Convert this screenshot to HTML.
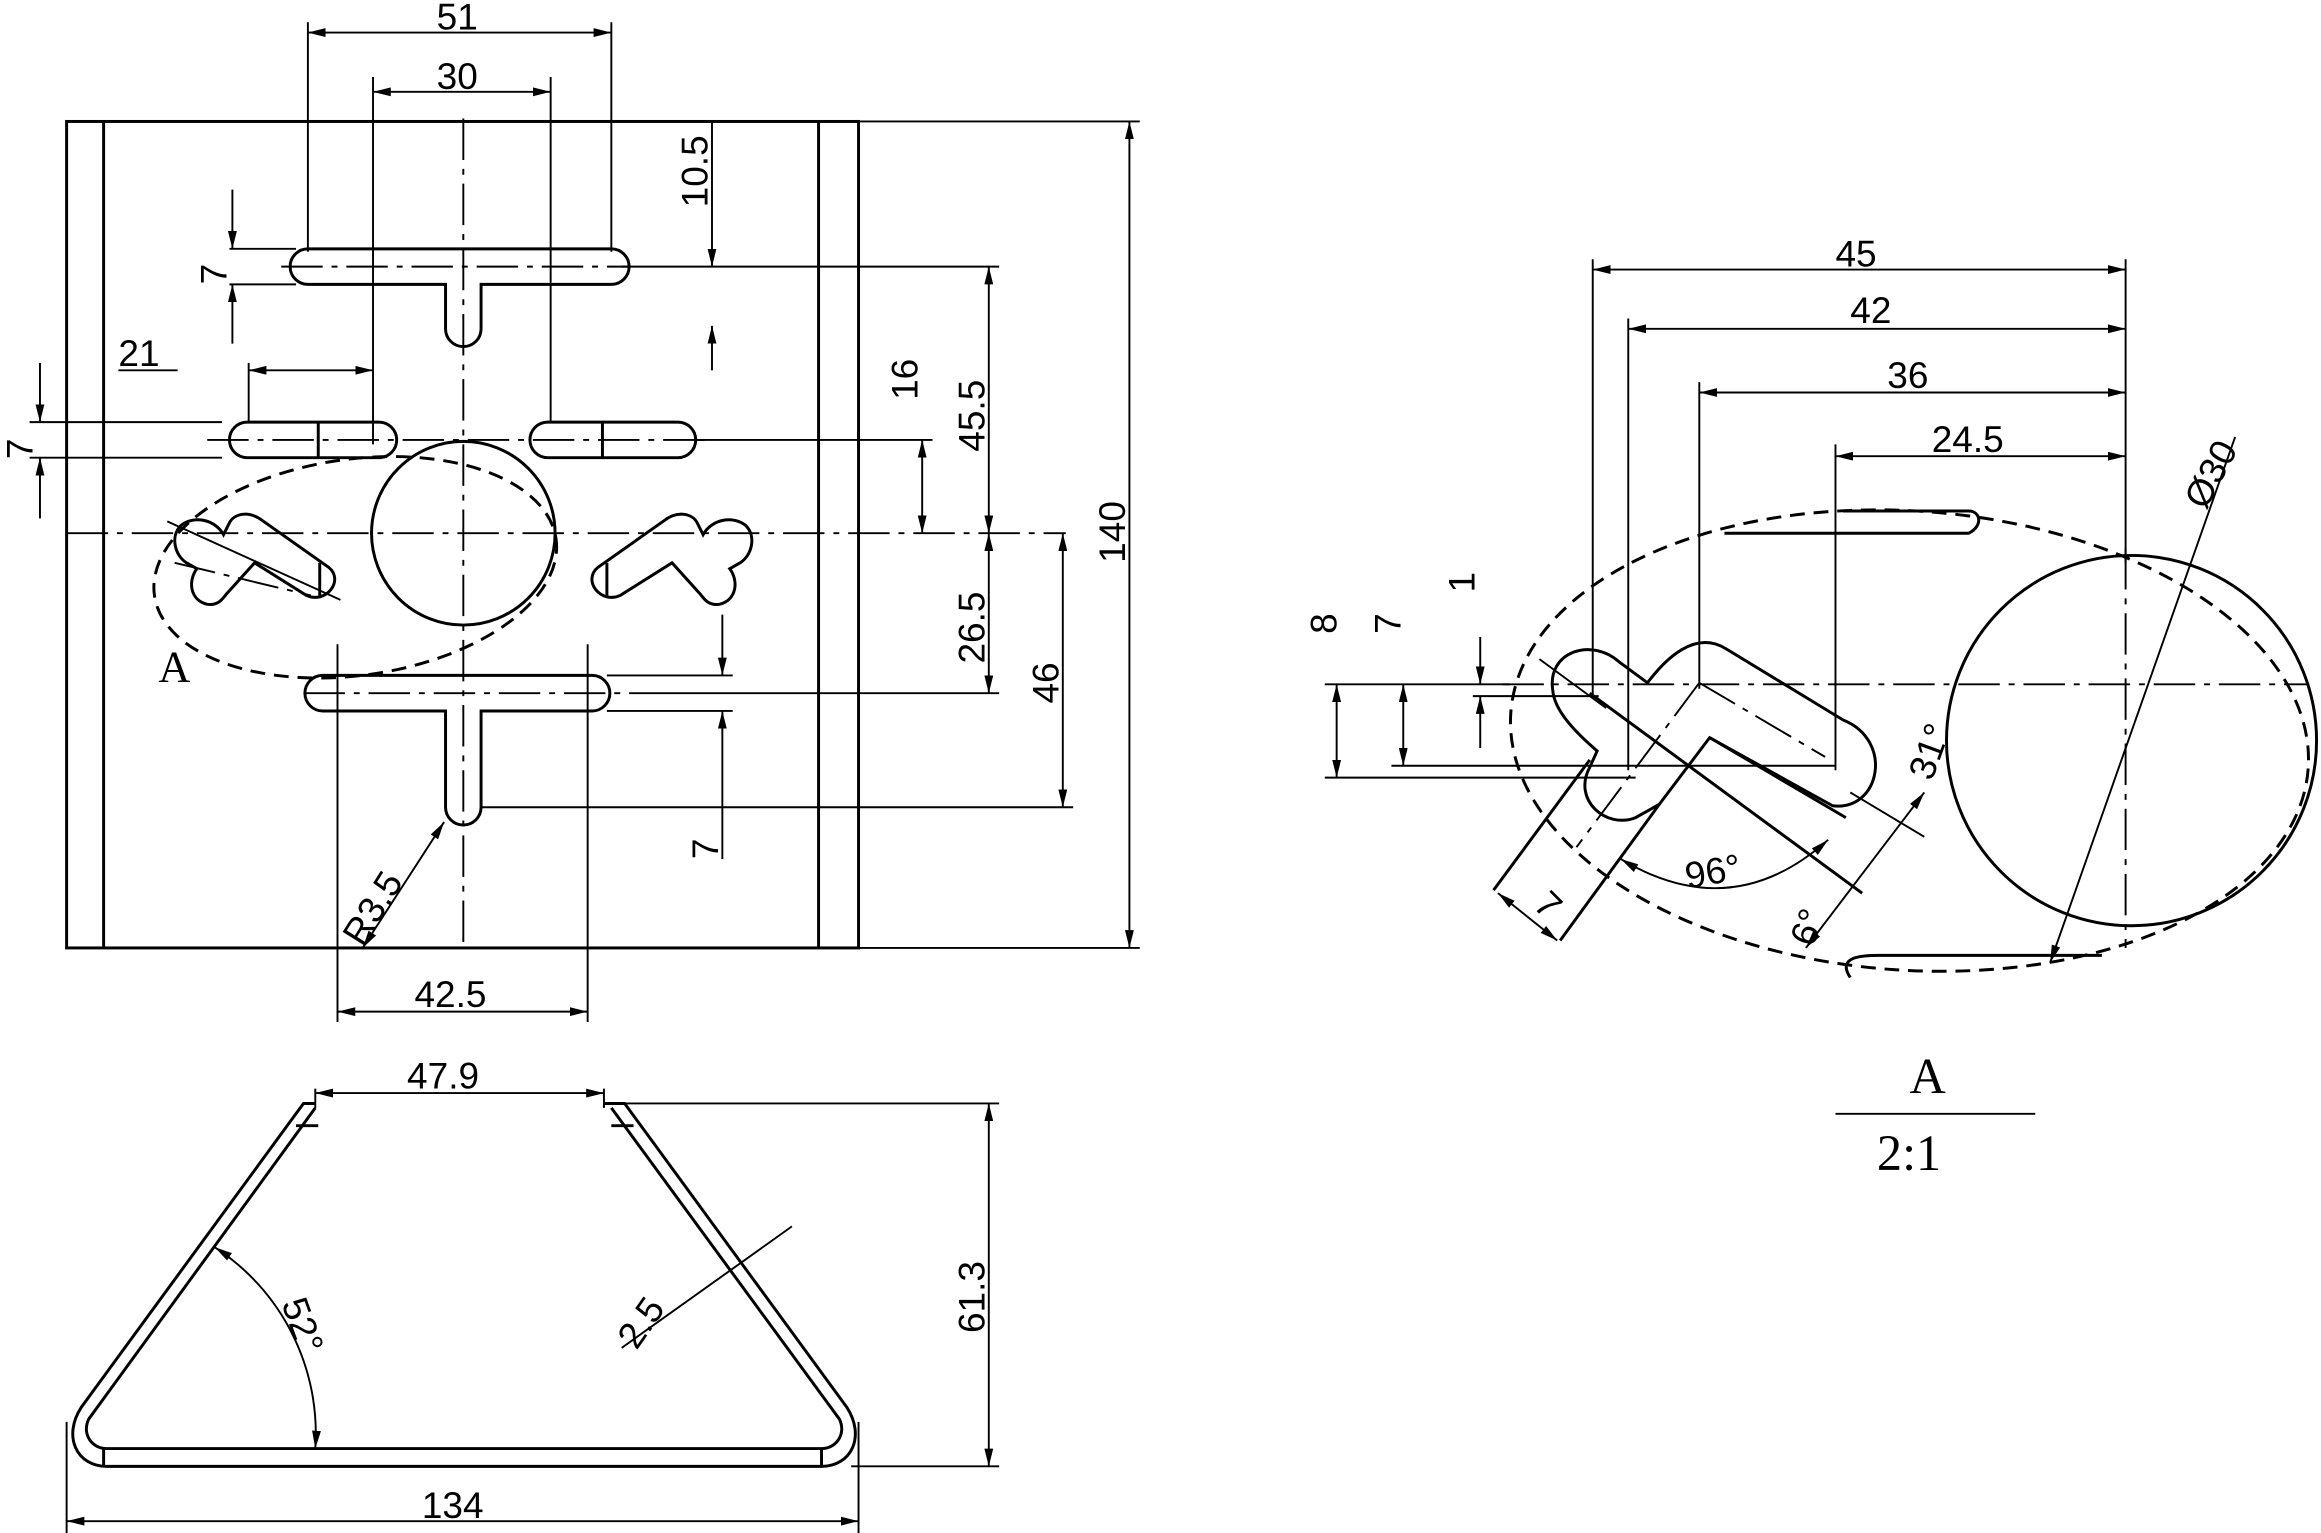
<!DOCTYPE html>
<html><head><meta charset="utf-8"><style>
html,body{margin:0;padding:0;background:#fff}
svg{display:block}
text{font-family:"Liberation Sans",sans-serif;fill:#000}
</style></head><body>
<svg width="2321" height="1533" viewBox="0 0 1568 1035" preserveAspectRatio="none" xmlns="http://www.w3.org/2000/svg">
<defs>
<marker id="a" viewBox="0 0 12 6" refX="12" refY="3" markerWidth="12" markerHeight="6" orient="auto-start-reverse" markerUnits="userSpaceOnUse"><path d="M0,0L12,3L0,6z" fill="#000"/></marker>
</defs>
<g fill="none" stroke="#000" stroke-width="2">
<!-- plate -->
<rect x="45" y="82" width="535" height="558"/>
<line x1="70" y1="82" x2="70" y2="640"/>
<line x1="553" y1="82" x2="553" y2="640"/>
<!-- slots -->
<path d="M208,168 H413 A12,12 0 0 1 413,192 H325 V222 A12,12 0 0 1 301,222 V192 H208 A12,12 0 0 1 208,168Z"/>
<rect x="155" y="285" width="113" height="24" rx="12"/>
<rect x="358" y="285" width="112" height="24" rx="12"/>
<line x1="215" y1="285" x2="215" y2="309"/><line x1="407" y1="285" x2="407" y2="309"/>
<circle cx="313" cy="360" r="62"/>
<path d="M218,456 H400 A12,12 0 0 1 400,480 H325 V545 A12,12 0 0 1 301,545 V480 H218 A12,12 0 0 1 218,456Z"/>
<path id="lc" d="M151,361 C145,350 130,348 122,355 C115,362 118,375 126,380 L133,384 C127,392 128,405 140,408 C147,409 150,405 153,401 L172,380 L207,402 C220,408 233,392 222,383 L178,352 C168,344 158,347 155,353 Z"/>
<line x1="216" y1="380" x2="216" y2="402"/>
<g transform="translate(626,0) scale(-1,1)">
<path d="M151,361 C145,350 130,348 122,355 C115,362 118,375 126,380 L133,384 C127,392 128,405 140,408 C147,409 150,405 153,401 L172,380 L207,402 C220,408 233,392 222,383 L178,352 C168,344 158,347 155,353 Z"/>
<line x1="216" y1="380" x2="216" y2="402"/>
</g>
<ellipse cx="240" cy="383" rx="137" ry="73" transform="rotate(-8 240 383)" stroke-dasharray="10,6"/>
<!-- center lines -->
<g stroke-width="1.3" stroke-dasharray="28,6,4,6">
<line x1="45" y1="360" x2="720" y2="360"/>
<line x1="313" y1="80" x2="313" y2="640"/>
<line x1="190" y1="180" x2="425" y2="180"/>
<line x1="140" y1="297" x2="480" y2="297"/>
<line x1="205" y1="468" x2="420" y2="468"/>
<line x1="1015" y1="462" x2="1560" y2="462"/>
<line x1="1436" y1="370" x2="1436" y2="640"/>
<line x1="1148" y1="461" x2="1065" y2="572"/>
<line x1="1148" y1="461" x2="1233" y2="511"/>
<line x1="118" y1="380" x2="210" y2="402" transform="rotate(0)"/>
</g>
<!-- extension lines -->
<g stroke-width="1.3">
<line x1="208" y1="15" x2="208" y2="170"/><line x1="413" y1="15" x2="413" y2="170"/>
<line x1="252" y1="52" x2="252" y2="300"/><line x1="372" y1="52" x2="372" y2="285"/>
<line x1="580" y1="82" x2="770" y2="82"/><line x1="580" y1="640" x2="770" y2="640"/>
<line x1="420" y1="180" x2="675" y2="180"/><line x1="470" y1="297" x2="630" y2="297"/>
<line x1="425" y1="468" x2="675" y2="468"/><line x1="410" y1="456" x2="495" y2="456"/><line x1="410" y1="480" x2="495" y2="480"/>
<line x1="325" y1="545" x2="725" y2="545"/>
<line x1="155" y1="168" x2="200" y2="168"/><line x1="155" y1="192" x2="200" y2="192"/>
<line x1="20" y1="285" x2="150" y2="285"/><line x1="20" y1="309" x2="150" y2="309"/>
<line x1="168" y1="245" x2="168" y2="285"/>
<line x1="228" y1="435" x2="228" y2="690"/><line x1="397" y1="435" x2="397" y2="690"/>
</g>
<!-- dims -->
<g stroke-width="1.3" marker-start="url(#a)" marker-end="url(#a)">
<line x1="208" y1="22" x2="413" y2="22"/>
<line x1="252" y1="62" x2="372" y2="62"/>
<line x1="763" y1="82" x2="763" y2="640"/>
<line x1="668" y1="180" x2="668" y2="360"/>
<line x1="623" y1="297" x2="623" y2="360"/>
<line x1="668" y1="360" x2="668" y2="468"/>
<line x1="718" y1="360" x2="718" y2="545"/>
<line x1="168" y1="250" x2="252" y2="250"/>
<line x1="228" y1="683" x2="397" y2="683"/>
<line x1="300" y1="555" x2="245" y2="640"/>
</g>
<g stroke-width="1.3">
<line x1="157" y1="128" x2="157" y2="168" marker-end="url(#a)"/><line x1="157" y1="232" x2="157" y2="192" marker-end="url(#a)"/>
<line x1="27" y1="245" x2="27" y2="285" marker-end="url(#a)"/><line x1="27" y1="350" x2="27" y2="309" marker-end="url(#a)"/>
<line x1="481" y1="82" x2="481" y2="180" marker-end="url(#a)"/><line x1="481" y1="250" x2="481" y2="220" marker-end="url(#a)"/>
<line x1="488" y1="415" x2="488" y2="456" marker-end="url(#a)"/><line x1="488" y1="580" x2="488" y2="480" marker-end="url(#a)"/>
<line x1="80" y1="250" x2="120" y2="250"/>
<line x1="113" y1="352" x2="230" y2="405"/>
</g>
<!-- bottom view -->
<path d="M213,745 L205,745 L55,950 C42,970 52,990 72,990 L555,990 C575,990 585,970 572,950 L422,745 L408,745"/>
<path d="M213,748 L60,958 C55,968 62,978 72,978 L555,978 C565,978 572,968 567,958 L413,748"/>
<line x1="200" y1="760" x2="215" y2="760"/><line x1="413" y1="760" x2="428" y2="760"/>
<line x1="70" y1="978" x2="70" y2="990"/><line x1="555" y1="978" x2="555" y2="990"/>
<g stroke-width="1.3">
<line x1="213" y1="735" x2="213" y2="748"/><line x1="408" y1="735" x2="408" y2="748"/>
<line x1="420" y1="745" x2="675" y2="745"/><line x1="575" y1="990" x2="675" y2="990"/>
<line x1="45" y1="960" x2="45" y2="1035"/><line x1="580" y1="960" x2="580" y2="1035"/>
<line x1="213" y1="738" x2="408" y2="738" marker-start="url(#a)" marker-end="url(#a)"/>
<line x1="668" y1="745" x2="668" y2="990" marker-start="url(#a)" marker-end="url(#a)"/>
<line x1="45" y1="1027" x2="580" y2="1027" marker-start="url(#a)" marker-end="url(#a)"/>
<path d="M145,842 A150,150 0 0 1 213,978" marker-start="url(#a)" marker-end="url(#a)"/>
<line x1="535" y1="828" x2="420" y2="910"/>
</g>
<!-- detail view -->
<ellipse cx="1290" cy="500" rx="270" ry="155" transform="rotate(4 1290 500)" stroke-dasharray="10,6"/>
<circle cx="1440" cy="500" r="125"/>
<path d="M1079,507 L1074,518 C1062,540 1085,560 1105,552 L1121,543 L1155,498 L1238,544 C1270,548 1280,500 1245,486 L1166,438 C1145,425 1125,445 1113,461 L1094,447 C1075,430 1045,440 1049,466 C1050,480 1065,495 1079,507Z"/>
<path d="M1009,601 L1074,513 M1054,635 L1121,543 M1074,468 L1258,603 M1155,498 L1247,552 M1245,345 L1330,345 C1338,345 1340,355 1330,360 L1165,360 M1250,660 C1240,645 1260,645 1270,645 L1420,645"/>
<g stroke-width="1.3">
<line x1="1076" y1="175" x2="1076" y2="470"/><line x1="1100" y1="215" x2="1100" y2="520"/>
<line x1="1148" y1="258" x2="1148" y2="465"/><line x1="1240" y1="300" x2="1240" y2="520"/>
<line x1="1436" y1="175" x2="1436" y2="380"/>
<line x1="1040" y1="445" x2="1085" y2="478"/>
<line x1="1250" y1="535" x2="1300" y2="565"/>
<line x1="895" y1="525" x2="1105" y2="525"/><line x1="940" y1="517" x2="1240" y2="517"/>
<line x1="995" y1="470" x2="1080" y2="470"/><line x1="895" y1="462" x2="1020" y2="462"/>
<line x1="1076" y1="182" x2="1436" y2="182" marker-start="url(#a)" marker-end="url(#a)"/>
<line x1="1100" y1="222" x2="1436" y2="222" marker-start="url(#a)" marker-end="url(#a)"/>
<line x1="1148" y1="265" x2="1436" y2="265" marker-start="url(#a)" marker-end="url(#a)"/>
<line x1="1240" y1="308" x2="1436" y2="308" marker-start="url(#a)" marker-end="url(#a)"/>
<line x1="903" y1="462" x2="903" y2="525" marker-start="url(#a)" marker-end="url(#a)"/>
<line x1="948" y1="462" x2="948" y2="517" marker-start="url(#a)" marker-end="url(#a)"/>
<line x1="1000" y1="430" x2="1000" y2="462" marker-end="url(#a)"/><line x1="1000" y1="505" x2="1000" y2="470" marker-end="url(#a)"/>
<line x1="1385" y1="650" x2="1510" y2="295" marker-start="url(#a)"/>
<line x1="1012" y1="603" x2="1052" y2="635" marker-start="url(#a)" marker-end="url(#a)"/>
<line x1="1220" y1="640" x2="1300" y2="535" marker-start="url(#a)" marker-end="url(#a)"/>
<path d="M1095,580 Q1170,625 1235,567" marker-start="url(#a)" marker-end="url(#a)"/>
<line x1="1240" y1="752" x2="1375" y2="752"/>
</g>
</g>
<g font-size="25">
<text x="295" y="20">51</text>
<text x="295" y="60">30</text>
<text x="80" y="247">21</text>
<text x="280" y="680">42.5</text>
<text x="275" y="735">47.9</text>
<text x="285" y="1025">134</text>
<text transform="translate(478,140) rotate(-90)">10.5</text>
<text transform="translate(620,270) rotate(-90)">16</text>
<text transform="translate(665,305) rotate(-90)">45.5</text>
<text transform="translate(665,448) rotate(-90)">26.5</text>
<text transform="translate(715,475) rotate(-90)">46</text>
<text transform="translate(760,380) rotate(-90)">140</text>
<text transform="translate(485,580) rotate(-90)">7</text>
<text transform="translate(153,192) rotate(-90)">7</text>
<text transform="translate(22,310) rotate(-90)">7</text>
<text transform="translate(665,900) rotate(-90)">61.3</text>
<text transform="translate(245,640) rotate(-58)">R3.5</text>
<text transform="translate(190,880) rotate(70)">52°</text>
<text transform="translate(430,912) rotate(-55)">2.5</text>
<text x="1240" y="180">45</text>
<text x="1250" y="218">42</text>
<text x="1275" y="262">36</text>
<text x="1305" y="305">24.5</text>
<text transform="translate(903,428) rotate(-90)">8</text>
<text transform="translate(946,428) rotate(-90)">7</text>
<text transform="translate(996,400) rotate(-90)">1</text>
<text transform="translate(1490,345) rotate(-62)">Ø30</text>
<text transform="translate(1305,528) rotate(-70)">31°</text>
<text transform="translate(1140,600) rotate(-10)">96°</text>
<text transform="translate(1225,640) rotate(-70)">6°</text>
<text transform="translate(1035,612) rotate(45)">7</text>
</g>
<g>
<text x="107" y="460" font-size="30" style="font-family:'Liberation Serif',serif">A</text>
<text x="1290" y="738" font-size="34" style="font-family:'Liberation Serif',serif">A</text>
<text x="1268" y="790" font-size="34" style="font-family:'Liberation Serif',serif">2:1</text>
</g>
</svg>
</body></html>
